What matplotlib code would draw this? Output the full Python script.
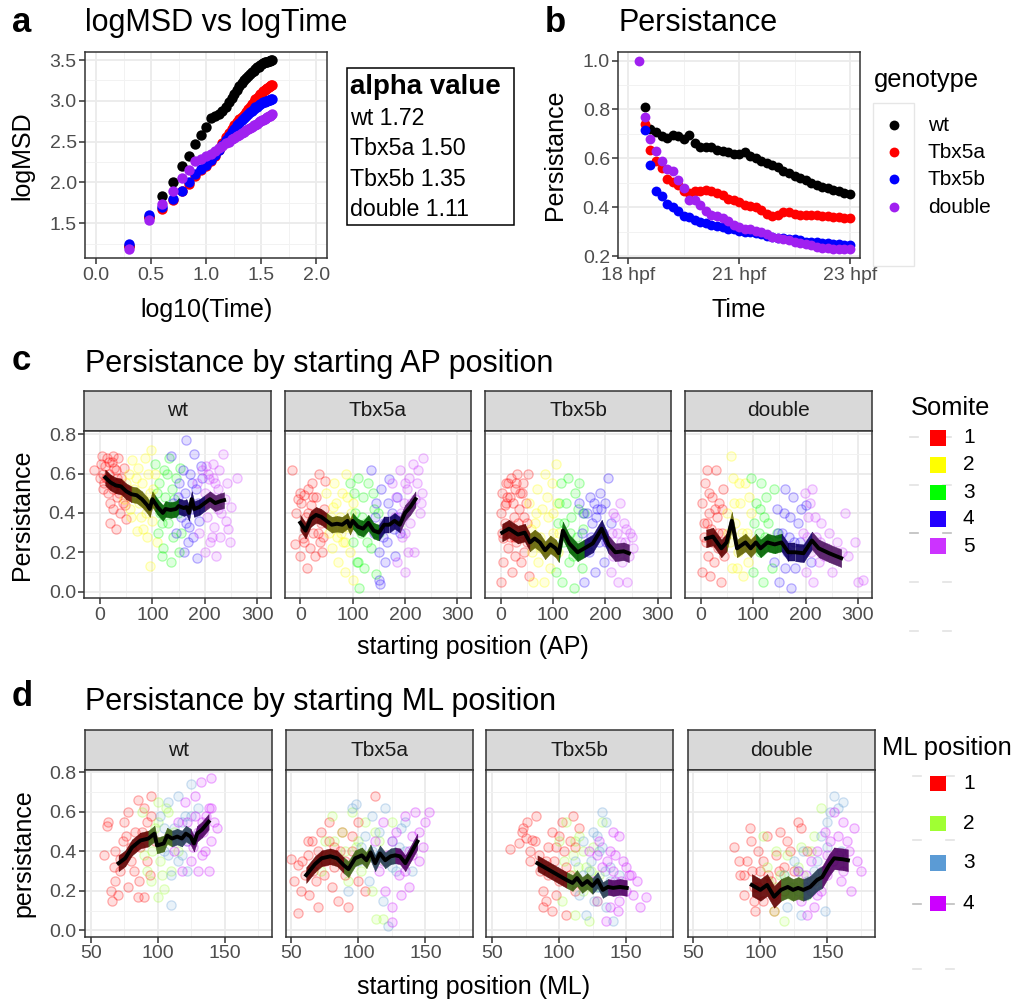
import numpy as np
import matplotlib
matplotlib.use('Agg')
import matplotlib.pyplot as plt
from matplotlib.colors import to_rgb, to_rgba
from matplotlib.patches import Rectangle
from matplotlib.ticker import MultipleLocator, FixedLocator, FormatStrFormatter

plt.rcParams['font.family'] = ['Liberation Sans', 'DejaVu Sans']

W, H = 1015, 1002

# ---------------- data ----------------
genotypes = ['wt', 'Tbx5a', 'Tbx5b', 'double']
geno_colors = ['#000000', '#FF0000', '#0000FF', '#A020F0']

# panel a: logMSD for time lags 2..40
lag = list(range(2, 41))
msd_wt = [1.22, 1.58, 1.83, 2.00, 2.20, 2.32, 2.47, 2.58, 2.68, 2.79, 2.81, 2.84, 2.88,
          2.93, 2.98, 3.03, 3.08, 3.13, 3.18, 3.22, 3.25, 3.28, 3.30, 3.33, 3.35, 3.37,
          3.39, 3.41, 3.42, 3.44, 3.45, 3.46, 3.47, 3.47, 3.48, 3.49, 3.49, 3.50, 3.50]
msd_tbx5a = [1.22, 1.58, 1.67, 1.78, 1.90, 1.98, 2.08, 2.15, 2.20, 2.26, 2.33, 2.40, 2.48,
             2.56, 2.60, 2.65, 2.70, 2.74, 2.78, 2.80, 2.83, 2.86, 2.90, 2.93, 2.96, 2.99,
             3.02, 3.04, 3.06, 3.08, 3.10, 3.12, 3.13, 3.15, 3.16, 3.17, 3.18, 3.19, 3.20]
msd_tbx5b = [1.25, 1.60, 1.70, 1.80, 1.90, 2.00, 2.10, 2.17, 2.22, 2.28, 2.34, 2.40, 2.46,
             2.52, 2.57, 2.62, 2.66, 2.70, 2.73, 2.76, 2.79, 2.82, 2.84, 2.86, 2.88, 2.90,
             2.92, 2.93, 2.95, 2.96, 2.97, 2.98, 2.99, 3.00, 3.00, 3.01, 3.01, 3.02, 3.02]
msd_double = [1.18, 1.54, 1.74, 1.90, 2.05, 2.15, 2.26, 2.29, 2.32, 2.35, 2.38, 2.42, 2.45,
              2.48, 2.50, 2.53, 2.55, 2.57, 2.58, 2.60, 2.62, 2.64, 2.66, 2.67, 2.68, 2.70,
              2.71, 2.72, 2.74, 2.75, 2.76, 2.77, 2.78, 2.79, 2.80, 2.81, 2.82, 2.83, 2.84]
alpha_vals = ['1.72', '1.50', '1.35', '1.11']

# panel b: persistance over time (frame index)
frames = list(range(6, 121, 3))
pers_wt = [np.nan, 0.81, 0.72, 0.71, 0.69, 0.685, 0.695, 0.69, 0.68, 0.695, 0.665, 0.645,
           0.645, 0.645, 0.635, 0.63, 0.625, 0.62, 0.62, 0.625, 0.61, 0.60, 0.59, 0.58,
           0.575, 0.565, 0.55, 0.54, 0.53, 0.52, 0.51, 0.50, 0.49, 0.485, 0.48, 0.47,
           0.465, 0.46, 0.455]
pers_tbx5a = [np.nan, 0.74, 0.635, 0.59, 0.56, 0.515, 0.505, 0.49, 0.465, 0.46, 0.465,
              0.465, 0.47, 0.465, 0.46, 0.45, 0.435, 0.43, 0.42, 0.41, 0.405, 0.40, 0.39,
              0.375, 0.365, 0.37, 0.38, 0.38, 0.375, 0.37, 0.37, 0.37, 0.37, 0.365, 0.365,
              0.36, 0.36, 0.355, 0.355]
pers_tbx5b = [np.nan, 0.715, 0.575, 0.465, 0.445, 0.415, 0.40, 0.385, 0.365, 0.36, 0.35,
              0.34, 0.335, 0.33, 0.325, 0.32, 0.31, 0.31, 0.305, 0.30, 0.30, 0.295, 0.29,
              0.285, 0.28, 0.275, 0.275, 0.27, 0.27, 0.265, 0.26, 0.26, 0.26, 0.255, 0.255,
              0.25, 0.25, 0.245, 0.245]
pers_double = [1.0, 0.77, 0.68, 0.63, 0.59, 0.555, 0.55, 0.51, 0.48, 0.43, 0.43, 0.41,
               0.385, 0.37, 0.365, 0.355, 0.345, 0.33, 0.32, 0.31, 0.31, 0.305, 0.30, 0.29,
               0.28, 0.275, 0.27, 0.265, 0.26, 0.255, 0.25, 0.245, 0.24, 0.235, 0.235, 0.23,
               0.23, 0.23, 0.23]
time_ticks = [0, 60, 120]
time_labels = ['18 hpf', '21 hpf', '23 hpf']

# panel c: persistance vs starting AP position, points per somite
somite_colors = ['#FF0000', '#FFFF00', '#00FF00', '#2200FF', '#CC33FF']
ap_wt = {
    1: [(-12, .62), (0, .58), (3, .69), (8, .55), (10, .64), (13, .68), (15, .50), (18, .60),
        (20, .45), (22, .66), (25, .69), (25, .42), (28, .55), (30, .62), (30, .32), (33, .48),
        (35, .68), (38, .40), (40, .58), (42, .52), (45, .63), (48, .44), (50, .37), (5, .52),
        (15, .57), (35, .55), (2, .65), (6, .60), (12, .58), (17, .66), (24, .52), (27, .63),
        (32, .58), (37, .50), (44, .45), (20, .35)],
    2: [(45, .47), (55, .60), (60, .38), (62, .67), (65, .52), (70, .31), (72, .63), (75, .45),
        (80, .55), (82, .32), (85, .68), (88, .40), (90, .28), (95, .50), (95, .13), (98, .72),
        (100, .36), (105, .60), (108, .25), (50, .55), (58, .42), (68, .58), (78, .38),
        (92, .60), (102, .52), (85, .45)],
    3: [(100, .45), (105, .65), (110, .30), (112, .55), (115, .40), (120, .22), (122, .62),
        (125, .48), (130, .35), (132, .68), (135, .15), (138, .52), (140, .28), (145, .58),
        (148, .40), (150, .20), (152, .63), (108, .50), (118, .35), (128, .60), (142, .47),
        (155, .30), (118, .18)],
    4: [(135, .69), (140, .45), (145, .30), (150, .55), (155, .38), (158, .62), (160, .20),
        (162, .50), (165, .77), (170, .33), (172, .60), (175, .42), (178, .28), (180, .70),
        (183, .52), (185, .17), (190, .36), (195, .58), (148, .48), (168, .25), (176, .55),
        (188, .45), (192, .64), (165, .35)],
    5: [(185, .55), (190, .30), (195, .62), (198, .45), (200, .20), (203, .64), (205, .38),
        (208, .57), (210, .25), (212, .48), (215, .65), (218, .33), (220, .55), (222, .18),
        (225, .42), (228, .62), (230, .28), (235, .70), (238, .47), (240, .36), (245, .32),
        (250, .43), (262, .58), (200, .50), (206, .60), (214, .28), (226, .52), (232, .40),
        (242, .55), (248, .25), (215, .58)],
}
ap_tbx5a = {
    1: [(-15, .62), (-10, .24), (-5, .47), (0, .50), (0, .18), (5, .27), (8, .49), (10, .38),
        (12, .12), (15, .52), (18, .22), (20, .44), (22, .55), (25, .30), (28, .18), (30, .48),
        (35, .60), (38, .25), (40, .35), (42, .20), (45, .42), (48, .56), (2, .45), (7, .25),
        (15, .40), (24, .48), (33, .30), (44, .28), (-8, .40)],
    2: [(50, .50), (55, .30), (60, .22), (62, .43), (65, .55), (70, .28), (72, .15), (75, .38),
        (80, .50), (82, .25), (85, .10), (88, .60), (92, .33), (95, .20), (100, .45), (100, .06),
        (58, .38), (68, .45), (78, .30), (90, .48), (96, .40), (85, .25)],
    3: [(95, .55), (100, .25), (105, .40), (108, .15), (110, .58), (112, .02), (115, .30),
        (120, .48), (122, .12), (125, .35), (130, .55), (135, .22), (140, .42), (145, .09),
        (150, .30), (102, .50), (118, .38), (128, .25), (138, .50), (148, .40), (110, .15)],
    4: [(135, .62), (140, .30), (145, .45), (150, .06), (150, .20), (153, .04), (155, .52),
        (160, .35), (165, .25), (170, .57), (175, .40), (180, .18), (185, .48), (190, .30),
        (142, .38), (158, .28), (168, .45), (178, .32), (188, .38), (162, .15)],
    5: [(175, .55), (180, .38), (185, .15), (190, .62), (195, .28), (198, .45), (200, .10),
        (203, .52), (205, .20), (208, .58), (210, .35), (215, .65), (218, .20), (220, .47),
        (225, .62), (228, .40), (232, .50), (235, .68), (182, .48), (192, .40), (200, .30),
        (212, .45), (222, .55), (200, .55), (230, .45)],
}
ap_tbx5b = {
    1: [(0, .05), (0, .40), (2, .50), (5, .27), (5, .15), (8, .44), (10, .55), (12, .33),
        (15, .22), (18, .48), (20, .58), (22, .10), (25, .38), (28, .52), (30, .25), (32, .60),
        (35, .42), (38, .15), (40, .30), (42, .55), (45, .20), (48, .45), (50, .35), (52, .60),
        (55, .08), (10, .45), (25, .28), (40, .50), (3, .30), (8, .35), (13, .48), (17, .28),
        (23, .45), (27, .18), (33, .35), (37, .50), (44, .38), (50, .25), (15, .55), (30, .55)],
    2: [(55, .45), (60, .20), (62, .05), (65, .35), (70, .52), (72, .15), (75, .28), (80, .42),
        (83, .05), (85, .60), (88, .22), (90, .38), (95, .12), (98, .55), (100, .30), (105, .65),
        (108, .45), (110, .20), (58, .32), (68, .40), (78, .22), (88, .48), (100, .40),
        (112, .30)],
    3: [(105, .10), (110, .35), (115, .55), (118, .05), (120, .25), (125, .45), (128, .58),
        (130, .15), (135, .38), (140, .02), (142, .50), (145, .28), (150, .55), (155, .12),
        (160, .40), (165, .22), (112, .45), (122, .35), (132, .30), (148, .42), (158, .32),
        (138, .18)],
    4: [(150, .45), (155, .30), (160, .05), (165, .40), (168, .20), (170, .48), (175, .35),
        (180, .10), (185, .42), (188, .25), (190, .50), (195, .30), (198, .15), (200, .45),
        (205, .58), (210, .35), (158, .40), (172, .28), (182, .38), (192, .42), (202, .25),
        (178, .45)],
    5: [(205, .25), (210, .10), (215, .40), (220, .20), (222, .30), (225, .05), (228, .45),
        (232, .15), (235, .35), (238, .25), (242, .05), (245, .18), (248, .30), (250, .28),
        (252, .22), (212, .30), (218, .38), (230, .25), (240, .32), (215, .18)],
}
ap_double = {
    1: [(8, .55), (10, .25), (12, .62), (15, .40), (18, .08), (20, .32), (22, .48), (25, .15),
        (28, .62), (30, .38), (32, .22), (35, .45), (38, .05), (40, .30), (42, .52), (45, .18),
        (5, .35), (3, .10), (2, .45), (6, .28), (12, .35), (16, .50), (22, .25), (26, .42),
        (33, .30), (40, .42), (14, .18)],
    2: [(50, .40), (55, .25), (58, .69), (60, .12), (62, .58), (65, .35), (70, .20), (72, .55),
        (75, .45), (80, .08), (85, .55), (88, .30), (90, .15), (95, .40), (100, .25), (52, .30),
        (64, .45), (78, .30), (92, .48), (68, .12)],
    3: [(95, .58), (100, .10), (105, .45), (110, .30), (112, .20), (115, .55), (118, .05),
        (120, .38), (125, .48), (130, .25), (135, .12), (140, .52), (145, .30), (102, .35),
        (112, .42), (128, .35), (138, .22), (122, .28)],
    4: [(140, .15), (145, .42), (150, .05), (155, .30), (160, .52), (165, .20), (170, .38),
        (172, .02), (175, .48), (180, .12), (185, .35), (190, .25), (200, .44), (210, .15),
        (148, .30), (158, .40), (168, .28), (178, .25), (192, .42), (160, .12)],
    5: [(195, .30), (198, .50), (200, .10), (205, .38), (210, .20), (212, .52), (215, .05),
        (220, .28), (225, .15), (230, .35), (240, .22), (250, .10), (260, .25), (275, .40),
        (280, .18), (300, .05), (295, .25), (310, .06), (202, .28), (208, .45), (218, .38),
        (228, .25), (235, .18), (245, .30), (270, .20)],
}
ap_mean_wt = [(10, .58), (20, .555), (30, .54), (40, .535), (50, .51), (60, .495), (70, .49),
              (80, .47), (90, .44), (95, .42), (100, .47), (105, .45), (110, .43), (120, .40),
              (125, .42), (135, .415), (145, .42), (150, .435), (160, .425), (165, .43),
              (170, .40), (175, .47), (180, .42), (190, .43), (200, .45), (210, .47),
              (220, .45), (230, .46), (237, .465)]
ap_mean_tbx5a = [(0, .35), (10, .31), (20, .37), (30, .39), (40, .38), (50, .36), (60, .34),
                 (70, .345), (80, .34), (90, .36), (95, .33), (100, .36), (110, .33),
                 (120, .32), (130, .35), (140, .31), (150, .30), (160, .34), (170, .34),
                 (180, .36), (190, .34), (200, .40), (210, .43), (220, .47)]
ap_mean_tbx5b = [(3, .30), (16, .32), (33, .29), (46, .30), (56, .25), (65, .27), (75, .25),
                 (85, .21), (95, .24), (105, .22), (111, .195), (119, .31), (131, .245),
                 (147, .20), (160, .22), (176, .245), (193, .32), (206, .24), (219, .20),
                 (235, .205), (245, .195)]
ap_mean_double = [(10, .27), (23, .28), (39, .22), (49, .25), (59, .36), (69, .22), (85, .25),
                  (95, .22), (105, .25), (114, .22), (127, .25), (141, .24), (154, .25),
                  (167, .20), (180, .20), (196, .195), (212, .26), (225, .22), (245, .195),
                  (268, .17)]
ap_band = [0.04, 0.04, 0.045, 0.045]

# panel d: persistance vs starting ML position, points per ML bin
ml_colors = ['#FF0000', '#A0FF33', '#5B9BD5', '#CC00FF']
ml_wt = {
    1: [(60, .38), (62, .53), (63, .55), (65, .20), (66, .15), (67, .32), (68, .25), (70, .18),
        (72, .36), (74, .45), (75, .55), (78, .22), (80, .42), (82, .30), (85, .17), (85, .66),
        (88, .50), (90, .62), (90, .17), (92, .35), (95, .68), (95, .58), (98, .45), (68, .40),
        (72, .30), (76, .48), (80, .35), (83, .50), (87, .42), (92, .55), (94, .28), (78, .60),
        (86, .25)],
    2: [(88, .60), (90, .38), (95, .25), (98, .52), (100, .17), (100, .65), (102, .35),
        (105, .45), (105, .21), (108, .60), (110, .30), (112, .50), (115, .40), (92, .48),
        (96, .40), (100, .55), (103, .28), (106, .62), (110, .45), (92, .30)],
    3: [(102, .58), (105, .40), (108, .65), (110, .13), (110, .28), (112, .52), (115, .68),
        (118, .38), (120, .58), (122, .30), (125, .74), (128, .48), (130, .62), (105, .52),
        (110, .48), (115, .35), (118, .55), (122, .45), (125, .58), (108, .38)],
    4: [(112, .40), (115, .55), (118, .30), (120, .65), (122, .45), (125, .35), (128, .58),
        (130, .30), (132, .75), (134, .50), (135, .40), (138, .62), (140, .77), (140, .45),
        (142, .55), (144, .52), (118, .48), (122, .55), (126, .42), (130, .50), (133, .38),
        (136, .58), (138, .30), (140, .62), (128, .68), (133, .55)],
}
ml_tbx5a = {
    1: [(50, .36), (52, .25), (55, .33), (55, .09), (57, .20), (60, .28), (62, .38), (63, .18),
        (65, .45), (68, .25), (70, .12), (72, .50), (75, .35), (78, .55), (80, .22), (82, .42),
        (85, .15), (88, .50), (90, .28), (92, .12), (95, .40), (100, .55), (112, .68), (58, .35),
        (62, .45), (66, .30), (70, .40), (74, .28), (78, .45), (82, .32), (86, .40), (90, .35),
        (95, .48), (100, .25), (105, .20)],
    2: [(72, .30), (75, .45), (80, .58), (85, .35), (88, .50), (92, .25), (95, .60), (98, .42),
        (102, .30), (105, .55), (110, .20), (113, .06), (115, .45), (118, .06), (120, .35),
        (125, .55), (78, .38), (82, .45), (90, .40), (100, .45), (108, .38), (112, .50)],
    3: [(92, .20), (95, .62), (98, .64), (100, .35), (105, .48), (108, .25), (110, .58),
        (115, .38), (118, .15), (120, .62), (122, .02), (125, .45), (128, .30), (132, .52),
        (135, .40), (140, .30), (102, .42), (110, .40), (115, .50), (125, .32), (130, .42),
        (135, .55)],
    4: [(112, .45), (115, .30), (118, .55), (120, .20), (122, .38), (125, .12), (125, .04),
        (128, .50), (130, .28), (132, .18), (135, .58), (138, .40), (140, .48), (142, .60),
        (145, .35), (148, .42), (150, .55), (153, .60), (118, .35), (125, .45), (130, .38),
        (135, .30), (140, .38), (145, .50), (138, .22)],
}
ml_tbx5b = {
    1: [(63, .41), (70, .44), (72, .50), (73, .52), (75, .47), (76, .55), (78, .40), (80, .46),
        (83, .58), (85, .38), (88, .20), (90, .35), (90, .15), (92, .28), (95, .50), (95, .10),
        (98, .42), (100, .25), (102, .55), (105, .32), (105, .08), (108, .45), (110, .58),
        (112, .20), (115, .52), (78, .35), (82, .45), (86, .30), (92, .42), (96, .35), (100, .48),
        (104, .40), (108, .28), (112, .42), (88, .12), (98, .18)],
    2: [(95, .30), (100, .45), (102, .15), (105, .55), (108, .25), (110, .38), (112, .08),
        (115, .48), (118, .20), (120, .32), (122, .05), (125, .42), (128, .15), (130, .28),
        (132, .55), (104, .35), (110, .28), (114, .32), (118, .40), (124, .30), (126, .22),
        (112, .45)],
    3: [(112, .35), (115, .18), (118, .45), (120, .08), (122, .30), (125, .50), (128, .22),
        (130, .40), (132, .60), (135, .12), (135, .55), (138, .32), (140, .05), (142, .20),
        (145, .28), (118, .28), (124, .35), (126, .15), (130, .22), (134, .30), (138, .25),
        (128, .48), (132, .42)],
    4: [(122, .40), (125, .25), (128, .15), (130, .45), (132, .32), (135, .05), (138, .40),
        (140, .50), (142, .25), (145, .48), (145, .15), (148, .35), (150, .20), (152, .28),
        (155, .18), (158, .25), (160, .12), (165, .17), (128, .38), (134, .22), (136, .35),
        (140, .30), (142, .38), (146, .25), (150, .32), (154, .28), (144, .10), (138, .12)],
}
ml_double = {
    1: [(80, .42), (85, .28), (88, .18), (90, .35), (92, .52), (93, .45), (95, .22), (96, .10),
        (98, .40), (100, .30), (102, .15), (105, .48), (108, .25), (110, .10), (112, .38),
        (115, .50), (118, .20), (120, .45), (125, .30), (128, .55), (130, .52), (135, .40),
        (140, .25), (84, .35), (88, .28), (94, .30), (98, .22), (102, .35), (106, .28),
        (110, .18), (114, .30), (118, .32), (122, .40), (95, .15)],
    2: [(102, .48), (105, .32), (108, .20), (110, .10), (112, .40), (115, .28), (118, .05),
        (120, .38), (125, .22), (130, .42), (135, .18), (140, .48), (145, .62), (148, .30),
        (106, .25), (112, .22), (118, .28), (122, .18), (128, .32), (132, .28), (138, .40)],
    3: [(118, .28), (120, .12), (125, .35), (128, .20), (130, .08), (132, .40), (135, .25),
        (140, .30), (145, .48), (148, .10), (150, .55), (155, .68), (158, .62), (160, .40),
        (162, .65), (122, .22), (128, .30), (134, .18), (138, .25), (142, .35), (150, .42),
        (152, .60)],
    4: [(128, .30), (130, .15), (133, .22), (135, .08), (138, .35), (140, .12), (142, .40),
        (145, .20), (148, .50), (150, .28), (152, .45), (155, .60), (158, .38), (160, .25),
        (162, .55), (165, .45), (168, .20), (170, .52), (172, .35), (175, .30), (134, .28),
        (138, .20), (142, .18), (146, .30), (150, .38), (154, .35), (158, .48), (162, .30),
        (166, .40)],
}
ml_mean_wt = [(70.75, .34), (75.75, .365), (80.75, .42), (87, .455), (93, .465), (97.5, .49),
              (99.5, .43), (104.5, .44), (107, .48), (110.75, .465), (114.5, .475),
              (118, .465), (121, .49), (124.5, .475), (127, .44), (129.5, .49), (133, .51),
              (138, .55)]
ml_mean_tbx5a = [(61, .28), (67.5, .335), (72.5, .365), (79, .375), (84, .365), (89, .33),
                 (92.5, .31), (97.5, .365), (102.5, .38), (106, .355), (109, .395),
                 (112.5, .34), (116, .39), (120, .355), (124, .375), (127.5, .38),
                 (131, .375), (135, .34), (144, .45)]
ml_mean_tbx5b = [(83.8, .34), (91.5, .31), (99.2, .28), (105.6, .255), (110, .24),
                 (113.3, .265), (117.2, .23), (121, .25), (124.9, .225), (128.7, .255),
                 (132.6, .205), (136.4, .22), (140.3, .215), (145.4, .22), (150.5, .215)]
ml_mean_double = [(93.6, .23), (100, .205), (105.1, .23), (110.3, .17), (115.4, .205),
                  (120.5, .22), (124.4, .205), (128.2, .215), (132.1, .205), (137.2, .22),
                  (142.3, .255), (146.2, .27), (151.3, .33), (155.1, .365), (161.5, .36),
                  (165.4, .355)]
ml_band = [0.04, 0.04, 0.04, 0.055]

# ---------------- drawing ----------------
fig = plt.figure(figsize=(W / 100, H / 100), dpi=100)
fig.patch.set_facecolor('white')


def add_ax(l, t, r, b):
    return fig.add_axes([l / W, 1 - b / H, (r - l) / W, (b - t) / H])


def gg_style(ax):
    ax.set_facecolor('white')
    for s in ax.spines.values():
        s.set_color('#333333')
        s.set_linewidth(1.1)
    ax.grid(True, which='major', color='#EBEBEB', lw=1.3)
    ax.grid(True, which='minor', color='#F2F2F2', lw=0.7)
    ax.set_axisbelow(True)
    ax.tick_params(which='major', length=4, width=1.1, color='#333333',
                   labelcolor='#4D4D4D', labelsize=14, pad=2)
    ax.tick_params(which='minor', length=0)


# overlay in pixel coordinates for free text and legend keys
lay = fig.add_axes([0, 0, 1, 1], zorder=10)
lay.set_xlim(0, W)
lay.set_ylim(H, 0)
lay.axis('off')


def label(x, y, s, **kw):
    lay.text(x, y, s, **kw)


# ----- panel a -----
ax = add_ax(85, 51.7, 326.7, 258.3)
gg_style(ax)
for vals, c in zip([msd_wt, msd_tbx5a, msd_tbx5b, msd_double], geno_colors):
    ax.scatter(np.log10(lag), vals, s=56, color=c, lw=0, zorder=3)
ax.set_xlim(-0.1, 2.095)
ax.set_ylim(1.071, 3.602)
ax.xaxis.set_major_locator(MultipleLocator(0.5))
ax.xaxis.set_minor_locator(MultipleLocator(0.25))
ax.yaxis.set_major_locator(FixedLocator([1.5, 2.0, 2.5, 3.0, 3.5]))
ax.yaxis.set_minor_locator(FixedLocator([1.25, 1.75, 2.25, 2.75, 3.25]))
ax.xaxis.set_major_formatter(FormatStrFormatter('%.1f'))
ax.yaxis.set_major_formatter(FormatStrFormatter('%.1f'))

label(12, 22, 'a', fontsize=25, fontweight='bold', va='center')
label(85, 31, 'logMSD vs logTime', fontsize=22, va='baseline')
label(22, 156, 'logMSD', fontsize=18, rotation=90, ha='center', va='center')
label(207, 310, 'log10(Time)', fontsize=18, ha='center', va='center')

lay.add_patch(Rectangle((347, 68.3), 167, 157, fill=False, ec='black', lw=1.1))
label(350, 87, 'alpha value', fontsize=20, fontweight='bold', va='center')
for i, (g, a) in enumerate(zip(genotypes, alpha_vals)):
    label(350, 118 + i * 30.5, f'{g} {a}', fontsize=16.7, va='center')

# ----- panel b -----
ax = add_ax(618.3, 51.7, 860, 258.3)
gg_style(ax)
for vals, c in zip([pers_wt, pers_tbx5a, pers_tbx5b, pers_double], geno_colors):
    ax.scatter(frames, vals, s=50, color=c, lw=0, zorder=3)
ax.set_xlim(-5.4, 125.4)
ax.set_ylim(0.192, 1.036)
ax.xaxis.set_major_locator(FixedLocator(time_ticks))
ax.xaxis.set_minor_locator(FixedLocator([30, 90]))
ax.set_xticklabels(time_labels)
ax.yaxis.set_major_locator(MultipleLocator(0.2))
ax.yaxis.set_minor_locator(FixedLocator([0.3, 0.5, 0.7, 0.9]))
ax.yaxis.set_major_formatter(FormatStrFormatter('%.1f'))

label(545, 22, 'b', fontsize=25, fontweight='bold', va='center')
label(618.3, 31, 'Persistance', fontsize=22, va='baseline')
label(555, 155, 'Persistance', fontsize=18, rotation=90, ha='center', va='center')
label(739, 310, 'Time', fontsize=18, ha='center', va='center')

label(874, 80, 'genotype', fontsize=18.4, va='center')
lay.add_patch(Rectangle((873.3, 103), 41, 163, fill=False, ec='#E6E6E6', lw=1))
for i, (g, c) in enumerate(zip(genotypes, geno_colors)):
    yk = [125, 152, 179, 207][i]
    lay.scatter([894.3], [yk], s=50, color=c, lw=0)
    label(927.7, yk, g, fontsize=15, va='center')


# ----- facets for c and d -----
def node_groups(nodes, pts):
    centers = {g: np.mean([p[0] for p in v]) for g, v in pts.items()}
    return [min(centers, key=lambda g: abs(centers[g] - x)) for x, _ in nodes]


def draw_facet(ax, pts, nodes, band, colors):
    for g, plist in pts.items():
        xs, ys = zip(*plist)
        c = colors[g - 1]
        ax.scatter(xs, ys, s=44, facecolor=to_rgba(c, 0.13), edgecolor=to_rgba(c, 0.30),
                   lw=0.9, zorder=2)
    mx = [n[0] for n in nodes]
    my = [n[1] for n in nodes]
    grp = node_groups(nodes, pts)
    for i in range(len(nodes) - 1):
        c = np.array(to_rgb(colors[grp[i] - 1])) * 0.38
        ax.fill_between(mx[i:i + 2], [my[i] - band, my[i + 1] - band],
                        [my[i] + band, my[i + 1] + band], color=c, alpha=0.9, lw=0.3,
                        edgecolor=c, zorder=3)
    ax.plot(mx, my, color='black', lw=2.8, zorder=4, solid_joinstyle='round')


def strip(l, t, r, b, text):
    sax = add_ax(l, t, r, b)
    sax.set_facecolor('#D9D9D9')
    for s in sax.spines.values():
        s.set_color('#333333')
        s.set_linewidth(1.1)
    sax.set_xticks([])
    sax.set_yticks([])
    sax.text(0.5, 0.5, text, transform=sax.transAxes, ha='center', va='center',
             fontsize=15, color='#1A1A1A')


def legend_dashes(ys, colors, x1, x2):
    for yd, dc in zip(ys, colors):
        lay.plot([x1, x1 + 8], [yd, yd], color=dc, lw=1.2, zorder=1)
        lay.plot([x2, x2 + 8], [yd, yd], color=dc, lw=1.2, zorder=1)


# panel c
c_left = [84.3, 284.6, 484.9, 685.2]
c_width = 186.4
ap_pts = [ap_wt, ap_tbx5a, ap_tbx5b, ap_double]
ap_means = [ap_mean_wt, ap_mean_tbx5a, ap_mean_tbx5b, ap_mean_double]
for i, g in enumerate(genotypes):
    l = c_left[i]
    strip(l, 390.7, l + c_width, 430.7, g)
    ax = add_ax(l, 430.7, l + c_width, 598.3)
    gg_style(ax)
    draw_facet(ax, ap_pts[i], ap_means[i], ap_band[i], somite_colors)
    ax.set_xlim(-30, 326)
    ax.set_ylim(-0.034, 0.818)
    ax.xaxis.set_major_locator(FixedLocator([0, 100, 200, 300]))
    ax.xaxis.set_minor_locator(FixedLocator([-50, 50, 150, 250]))
    ax.yaxis.set_major_locator(MultipleLocator(0.2))
    ax.yaxis.set_minor_locator(FixedLocator([0.1, 0.3, 0.5, 0.7]))
    ax.yaxis.set_major_formatter(FormatStrFormatter('%.1f'))
    if i > 0:
        ax.tick_params(axis='y', which='both', left=False, labelleft=False)

label(12, 360, 'c', fontsize=25, fontweight='bold', va='center')
label(85, 372, 'Persistance by starting AP position', fontsize=22, va='baseline')
label(22, 515, 'Persistance', fontsize=18, rotation=90, ha='center', va='center')
label(473, 647, 'starting position (AP)', fontsize=18, ha='center', va='center')

label(911, 408, 'Somite', fontsize=18.4, va='center')
legend_dashes([437, 485, 533, 582, 631],
              ['#E0E0E0', '#E3E3E3', '#BDBDBD', '#E3E3E3', '#E3E3E3'], 910, 943)
for i, c in enumerate(somite_colors):
    yk = [437.7, 465, 492.3, 519, 546][i]
    lay.add_patch(Rectangle((930, yk - 7.8), 15.6, 15.6, color=c, lw=0, zorder=3))
    label(963, yk, str(i + 1), fontsize=15, va='center')

# panel d
d_left = [85, 285.7, 486.4, 687.6]
d_width = 187
ml_pts = [ml_wt, ml_tbx5a, ml_tbx5b, ml_double]
ml_means = [ml_mean_wt, ml_mean_tbx5a, ml_mean_tbx5b, ml_mean_double]
for i, g in enumerate(genotypes):
    l = d_left[i]
    strip(l, 730, l + d_width, 770, g)
    ax = add_ax(l, 770, l + d_width, 936.7)
    gg_style(ax)
    draw_facet(ax, ml_pts[i], ml_means[i], ml_band[i], ml_colors)
    ax.set_xlim(45.7, 185.3)
    ax.set_ylim(-0.032, 0.812)
    ax.xaxis.set_major_locator(FixedLocator([50, 100, 150]))
    ax.xaxis.set_minor_locator(FixedLocator([75, 125, 175]))
    ax.yaxis.set_major_locator(MultipleLocator(0.2))
    ax.yaxis.set_minor_locator(FixedLocator([0.1, 0.3, 0.5, 0.7]))
    ax.yaxis.set_major_formatter(FormatStrFormatter('%.1f'))
    if i > 0:
        ax.tick_params(axis='y', which='both', left=False, labelleft=False)

label(12, 697, 'd', fontsize=25, fontweight='bold', va='center')
label(85, 710, 'Persistance by starting ML position', fontsize=22, va='baseline')
label(23, 853, 'persistance', fontsize=18, rotation=90, ha='center', va='center')
label(473.5, 987, 'starting position (ML)', fontsize=18, ha='center', va='center')

label(882, 748, 'ML position', fontsize=18.4, va='center')
legend_dashes([776, 840, 904, 969], ['#E3E3E3', '#E3E3E3', '#BDBDBD', '#E3E3E3'], 913, 946)
for i, c in enumerate(ml_colors):
    yk = [783.3, 823.3, 862.7, 903.3][i]
    lay.add_patch(Rectangle((930, yk - 7.8), 15.6, 15.6, color=c, lw=0, zorder=3))
    label(963, yk, str(i + 1), fontsize=15, va='center')

fig.savefig('out.png', dpi=100, facecolor='white')
